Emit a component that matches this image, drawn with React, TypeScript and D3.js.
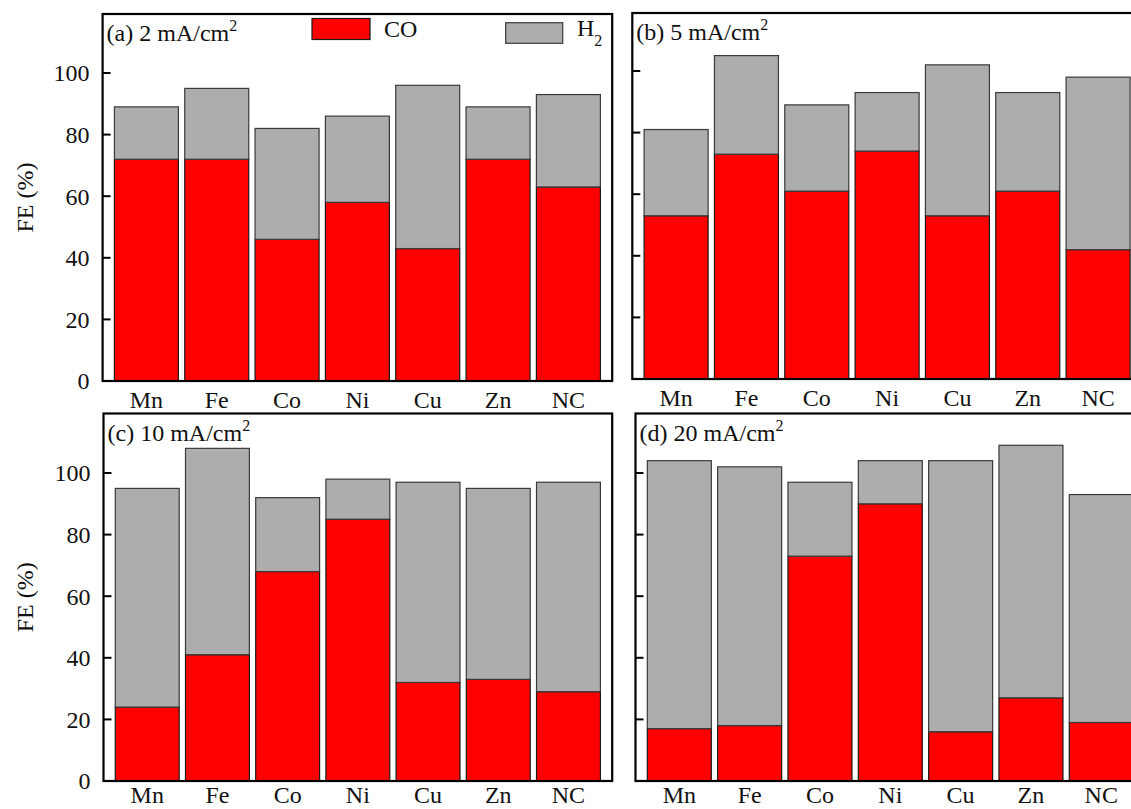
import React from "react";
import * as d3 from "d3";

const categories = ["Mn", "Fe", "Co", "Ni", "Cu", "Zn", "NC"];
const yTicks = [0, 20, 40, 60, 80, 100];

const coA = [72, 72, 46, 58, 43, 72, 63];
const h2A = [17, 23, 36, 28, 53, 17, 30];
const coB = [53, 73, 61, 74, 53, 61, 42];
const h2B = [28, 32, 28, 19, 49, 32, 56];
const coC = [24, 41, 68, 85, 32, 33, 29];
const h2C = [71, 67, 24, 13, 65, 62, 68];
const coD = [17, 18, 73, 90, 16, 27, 19];
const h2D = [87, 84, 24, 14, 88, 82, 74];

const panelTitles = ["(a) 2 mA/cm", "(b) 5 mA/cm", "(c) 10 mA/cm", "(d) 20 mA/cm"];
const seriesNames = ["CO", "H"];

const FONT = "'Liberation Serif', 'Times New Roman', Times, serif";
const RED = "#ff0000";
const GRAY = "#adadad";

type PanelCfg = {
  left: number;
  top: number;
  bottom: number;
  width: number;
  co: number[];
  h2: number[];
  title: string;
  showYLabels: boolean;
  labelOffset: number;
};

const panels: PanelCfg[] = [
  { left: 102.6, top: 14, bottom: 381, width: 509.6, co: coA, h2: h2A, title: panelTitles[0], showYLabels: true, labelOffset: 27 },
  { left: 632.3, top: 13, bottom: 379, width: 509.6, co: coB, h2: h2B, title: panelTitles[1], showYLabels: false, labelOffset: 27 },
  { left: 103.5, top: 413.5, bottom: 781, width: 508.7, co: coC, h2: h2C, title: panelTitles[2], showYLabels: true, labelOffset: 22 },
  { left: 635.5, top: 413.5, bottom: 781, width: 509.6, co: coD, h2: h2D, title: panelTitles[3], showYLabels: false, labelOffset: 22 },
];

function Panel({ p }: { p: PanelCfg }) {
  const x = d3
    .scaleBand<string>()
    .domain(categories)
    .range([p.left, p.left + p.width])
    .paddingInner(0.09)
    .paddingOuter(0.168);
  const y = d3.scaleLinear().domain([0, 100]).range([p.bottom, p.bottom - 308]);
  const rows = categories.map((c, i) => ({ cat: c, CO: p.co[i], H2: p.h2[i] }));
  const stack = d3.stack<any>().keys(["CO", "H2"])(rows);
  const fills = [RED, GRAY];
  return (
    <g>
      {stack.map((layer, li) => (
        <g key={li}>
          {layer.map((d, i) => (
            <rect
              key={i}
              x={x(rows[i].cat)!}
              width={x.bandwidth()}
              y={y(d[1])}
              height={y(d[0]) - y(d[1])}
              fill={fills[li]}
              stroke={li === 0 ? "#1a1a1a" : "#3a3a3a"}
              strokeWidth={1.2}
            />
          ))}
        </g>
      ))}
      <rect
        x={p.left}
        y={p.top}
        width={p.width}
        height={p.bottom - p.top}
        fill="none"
        stroke="#000"
        strokeWidth={2.2}
      />
      {yTicks.map((t) => (
        <g key={t}>
          {t > 0 && (
            <line x1={p.left} x2={p.left + 8} y1={y(t)} y2={y(t)} stroke="#000" strokeWidth={2} />
          )}
          {p.showYLabels && (
            <text
              x={p.left - 13}
              y={y(t)}
              dy="0.35em"
              textAnchor="end"
              fontSize={24}
              fontFamily={FONT}
              fill="#111"
            >
              {t}
            </text>
          )}
        </g>
      ))}
      {categories.map((c) => (
        <text
          key={c}
          x={x(c)! + x.bandwidth() / 2}
          y={p.bottom + p.labelOffset}
          textAnchor="middle"
          fontSize={24}
          fontFamily={FONT}
          fill="#111"
        >
          {c}
        </text>
      ))}
      <text x={p.left + 4} y={p.top + 27} fontSize={24} fontFamily={FONT} fill="#111">
        {p.title}
        <tspan fontSize={16} dy={-10}>
          2
        </tspan>
      </text>
      {p.showYLabels && (
        <text
          transform={`translate(33,${(p.top + p.bottom) / 2}) rotate(-90)`}
          textAnchor="middle"
          fontSize={24}
          fontFamily={FONT}
          fill="#111"
        >
          FE (%)
        </text>
      )}
    </g>
  );
}

export default function App() {
  return (
    <svg
      width={1131}
      height={809}
      style={{ position: "absolute", left: 0, top: 0, background: "#fff" }}
    >
      <rect x={0} y={0} width={1131} height={809} fill="#fff" />
      {panels.map((p, i) => (
        <Panel key={i} p={p} />
      ))}
      <g>
        <rect x={312} y={18.5} width={58} height={21} fill={RED} stroke="#1a1a1a" strokeWidth={1.2} />
        <text x={384} y={37.3} fontSize={24} fontFamily={FONT} fill="#111">
          {seriesNames[0]}
        </text>
        <rect x={505.7} y={22.7} width={57} height={20.6} fill={GRAY} stroke="#3a3a3a" strokeWidth={1.2} />
        <text x={577} y={36} fontSize={24} fontFamily={FONT} fill="#111">
          {seriesNames[1]}
          <tspan fontSize={16} dy={9.5}>
            2
          </tspan>
        </text>
      </g>
    </svg>
  );
}
